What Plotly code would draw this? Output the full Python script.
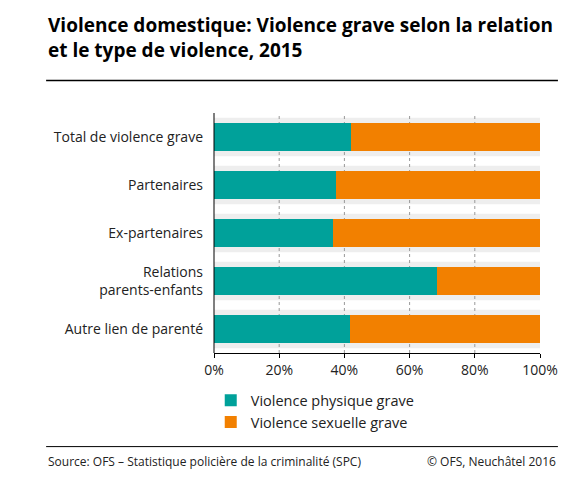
import plotly.graph_objects as go

categories = ["Total de violence grave", "Partenaires", "Ex-partenaires",
              "Relations<br>parents-enfants", "Autre lien de parenté"]
physique = [42.0, 37.4, 36.5, 68.4, 41.7]
sexuelle = [100 - v for v in physique]
ticks = [0, 20, 40, 60, 80, 100]
tick_labels = ["0%", "20%", "40%", "60%", "80%", "100%"]

teal = "#00a19a"
orange = "#f28000"
font = "Open Sans"

fig = go.Figure()
fig.add_trace(go.Bar(y=categories, x=physique, orientation="h", name="Violence physique grave",
                     marker=dict(color=teal, line_width=0), width=0.58))
fig.add_trace(go.Bar(y=categories, x=sexuelle, orientation="h", name="Violence sexuelle grave",
                     marker=dict(color=orange, line_width=0), width=0.58))

shapes = []
for i in range(len(categories)):
    shapes.append(dict(type="rect", xref="paper", yref="y", x0=0, x1=1, y0=i - 0.4, y1=i + 0.4,
                       fillcolor="#eeeeee", line_width=0, layer="below"))
for xv in ticks[1:-1]:
    shapes.append(dict(type="line", xref="x", yref="paper", x0=xv, x1=xv, y0=0, y1=1,
                       line=dict(color="#999999", width=1, dash="dot"), layer="below"))
shapes.append(dict(type="line", xref="paper", yref="paper", x0=-0.515, x1=1.055, y0=1.135, y1=1.135,
                   line=dict(color="black", width=1.5)))
shapes.append(dict(type="line", xref="paper", yref="paper", x0=-0.515, x1=1.055, y0=-0.39, y1=-0.39,
                   line=dict(color="black", width=1)))
shapes.append(dict(type="line", xref="paper", yref="paper", x0=0, x1=0, y0=0, y1=1,
                   line=dict(color="black", width=1)))

fig.update_layout(
    width=588, height=488, barmode="stack", bargap=0.4,
    margin=dict(l=206, r=56, t=105, b=143, autoexpand=False),
    paper_bgcolor="white", plot_bgcolor="white",
    font=dict(family=font, size=14, color="#222222"),
    shapes=shapes, showlegend=True,
    legend=dict(orientation="v", x=-0.01, y=-0.13, xanchor="left", yanchor="top",
                traceorder="normal", font=dict(size=14.5), itemsizing="constant", tracegroupgap=2),
    xaxis=dict(range=[0, 100], tickvals=ticks, ticktext=tick_labels, showgrid=False,
               zeroline=False, ticks="outside", ticklen=4, tickcolor="black",
               tickfont=dict(size=14), showline=True, linecolor="black"),
    yaxis=dict(autorange="reversed", showgrid=False, tickfont=dict(size=14), ticks="", ticklabelstandoff=10),
    annotations=[
        dict(text="<b>Violence domestique: Violence grave selon la relation<br>et le type de violence, 2015</b>",
             xref="paper", yref="paper", x=-0.515, y=1.43, xanchor="left", yanchor="top",
             align="left", showarrow=False, font=dict(size=19, color="black")),
        dict(text="Source: OFS – Statistique policière de la criminalité (SPC)", xref="paper", yref="paper",
             x=-0.515, y=-0.41, xanchor="left", yanchor="top", showarrow=False, font=dict(size=12)),
        dict(text="© OFS, Neuchâtel 2016", xref="paper", yref="paper",
             x=1.055, y=-0.41, xanchor="right", yanchor="top", showarrow=False, font=dict(size=12)),
    ],
)
fig.write_html("out.html")
